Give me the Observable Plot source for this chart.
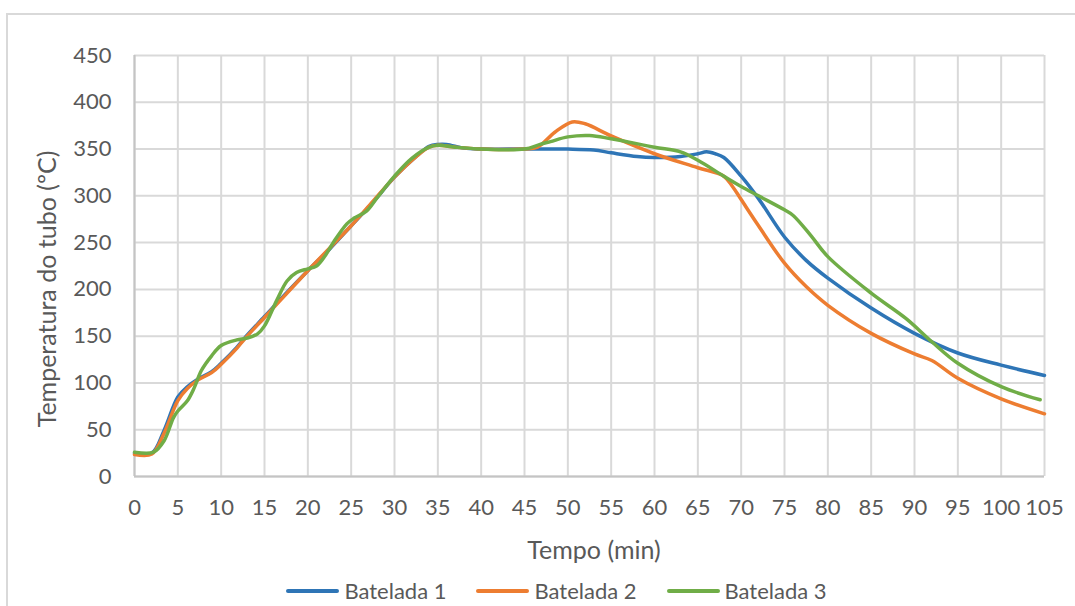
<!DOCTYPE html>
<html><head><meta charset="utf-8">
<script src="https://cdn.jsdelivr.net/npm/d3@7"></script>
<script src="https://cdn.jsdelivr.net/npm/@observablehq/plot@0.6"></script>
<style>
html,body{margin:0;padding:0;background:#fff;}
#wrap{position:relative;width:1075px;height:606px;overflow:hidden;font-family:Lato,sans-serif;color:#595959;}
#frame{position:absolute;left:6px;top:13px;width:1200px;height:800px;border:2px solid #d9d9d9;box-sizing:border-box;}
#chart{position:absolute;left:0;top:0;}
#ytitle{position:absolute;left:46px;top:289px;transform:translate(-50%,-50%) rotate(-90deg);white-space:nowrap;font-size:25px;}
#xtitle{position:absolute;left:594px;top:549px;transform:translate(-50%,-50%);white-space:nowrap;font-size:25px;}
#legend{position:absolute;left:0;width:1075px;top:577px;display:flex;justify-content:center;gap:30px;font-size:22px;padding-left:38px;box-sizing:border-box;}
#legend .item{display:flex;align-items:center;gap:5px;}
#legend .sw{display:inline-block;width:53px;height:4px;border-radius:2px;}
</style>
</head><body>
<div id="wrap">
<div id="frame"></div>
<div id="chart"></div>
<div id="ytitle">Temperatura do tubo (ºC)</div>
<div id="xtitle">Tempo (min)</div>
<div id="legend"></div>
</div>
<script>
const seriesNames = ["Batelada 1", "Batelada 2", "Batelada 3"];
const seriesColors = ["#2e75b6", "#ed7d31", "#70ad47"];
const xTicks = d3.range(0, 106, 5);
const yTicks = d3.range(0, 451, 50);

const t1 = [0, 2, 3.4, 5, 6.1, 7.3, 8.9, 10, 11.8, 12.7, 15, 17.5, 20, 22.5, 25, 27.5, 30, 32.5, 34, 35, 36, 38, 40, 45, 50, 53, 55, 58, 60, 63, 65, 66, 67, 68, 70, 72, 75, 77.5, 80, 85, 90, 95, 100, 105];
const v1 = [25, 25, 49, 85, 96, 104, 112, 121, 138, 148, 171, 196, 220, 243, 268, 293, 320, 342, 353, 355, 355, 351, 350, 350, 350, 349, 346, 342, 341, 342, 345, 347, 345, 341, 321, 297, 256, 231, 212, 180, 153, 132, 119, 108];

const t2 = [0, 2, 3.4, 5, 6.1, 7.3, 8.9, 10, 11.8, 12.7, 15, 17.5, 20, 22.5, 25, 27.5, 30, 32.5, 34, 35, 37, 40, 45, 46.5, 48.5, 50.5, 52, 55, 60, 65, 68, 69, 70, 72, 75, 77.5, 80, 85, 90, 92, 95, 100, 105];
const v2 = [23.5, 24, 46, 81, 94, 103, 111, 120, 137, 147, 170, 195, 220, 244, 268, 294, 320, 342, 352, 354, 352, 350, 350, 352, 368, 379, 377, 364, 345, 330, 321, 310, 296, 268, 228, 203, 183, 153, 131, 124, 105, 83, 67];

const t3 = [0, 2.2, 3.4, 4.5, 5, 6.1, 6.9, 7.7, 8.9, 10, 11.8, 13, 14.2, 15, 16.4, 17.6, 18.7, 20, 21, 22, 23, 24.5, 25.3, 26.8, 28, 30, 32, 34, 35, 37, 40, 45, 46.8, 48, 50, 52.5, 55, 60, 63, 65, 68, 70, 72, 75, 76, 78, 80, 85, 89, 92, 95, 100, 104.5];
const v3 = [26, 26, 38, 63, 70, 81, 95, 113, 129, 140, 146, 148, 152.5, 161, 188, 209, 218, 222, 225, 236, 251, 270, 276, 284, 298, 321, 340, 352, 354, 352, 350, 350, 355, 358, 363, 364.5, 361, 352, 347, 338, 321, 310, 300, 285, 279, 258, 235, 196, 169, 144, 121, 96, 82];

const times = [t1, t2, t3];
const values = [v1, v2, v3];
const rows = seriesNames.flatMap((name, i) => times[i].map((t, j) => ({series: name, t, v: values[i][j]})));

const chart = Plot.plot({
  width: 1075,
  height: 530,
  marginLeft: 134,
  marginRight: 31,
  marginTop: 55,
  marginBottom: 54,
  style: {fontFamily: "Lato, sans-serif", fontSize: "22px", color: "#595959", background: "transparent"},
  x: {domain: [0, 105], label: null},
  y: {domain: [0, 450], label: null},
  color: {domain: seriesNames, range: seriesColors},
  marks: [
    Plot.gridX(xTicks, {stroke: "#d9d9d9", strokeOpacity: 1, strokeWidth: 2}),
    Plot.gridY(yTicks, {stroke: "#d9d9d9", strokeOpacity: 1, strokeWidth: 2}),
    Plot.ruleY([0], {stroke: "#c4c4c4", strokeWidth: 2}),
    Plot.ruleX([0], {stroke: "#c4c4c4", strokeWidth: 2}),
    Plot.axisX(xTicks, {tickSize: 0, tickPadding: 23, label: null, fill: "#595959"}),
    Plot.axisY(yTicks, {tickSize: 0, tickPadding: 23, label: null, fill: "#595959"}),
    Plot.line(rows, {x: "t", y: "v", z: "series", stroke: "series", strokeWidth: 3.5, curve: "catmull-rom", strokeLinejoin: "round", strokeLinecap: "round"})
  ]
});
document.getElementById("chart").appendChild(chart);

const legend = document.getElementById("legend");
seriesNames.forEach((n, i) => {
  const it = document.createElement("div");
  it.className = "item";
  const sw = document.createElement("span");
  sw.className = "sw";
  sw.style.background = seriesColors[i];
  const tx = document.createElement("span");
  tx.textContent = n;
  it.appendChild(sw); it.appendChild(tx);
  legend.appendChild(it);
});
</script>
</body></html>
